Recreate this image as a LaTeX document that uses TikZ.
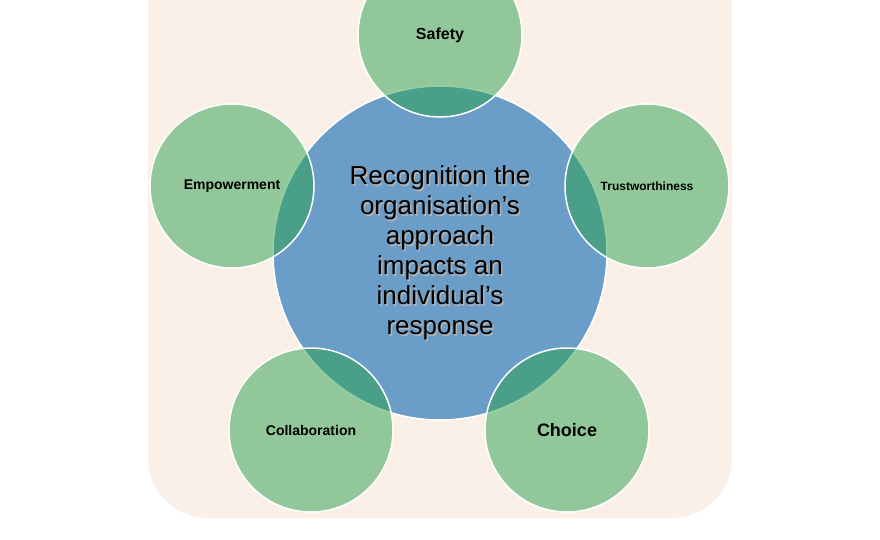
\documentclass[tikz,border=0pt]{standalone}
\usepackage{fontspec}
\setmainfont{Liberation Sans}
\begin{document}
\begin{tikzpicture}[x=1pt,y=-1pt,
  sat/.style={circle,minimum size=164pt,inner sep=0pt,draw=white,line width=1.5pt,fill=none},
  lbl/.style={font=\bfseries\fontsize{16}{18}\selectfont,text=black}]
\useasboundingbox (0,0) rectangle (880,540);
\fill[white] (0,0) rectangle (880,540);
\fill[fill={rgb,255:red,251;green,240;blue,232},rounded corners=60pt] (148,-60) rectangle (732,518);
\node[circle,minimum size=334pt,inner sep=0pt,fill={rgb,255:red,106;green,157;blue,200},draw=white,line width=1.5pt] (c) at (440,253) {};
\definecolor{gr}{RGB}{43,162,76}
\foreach \n/\x/\y in {s/440/35,t/647/186,ch/567/430,co/311/430,e/232/186}{
  \fill[gr,opacity=0.5] (\x,\y) circle (82);
  \node[sat] (\n) at (\x,\y) {};
}
\node[text=gray!60,align=center,font=\fontsize{26}{30}\selectfont] at ([xshift=1.5pt,yshift=-1.5pt]c.center) {Recognition the\\organisation’s\\approach\\impacts an\\individual’s\\response};
\node[align=center,font=\fontsize{26}{30}\selectfont] (ct) at (c.center) {Recognition the\\organisation’s\\approach\\impacts an\\individual’s\\response};
\node[lbl] at (s.center) {Safety};
\node[lbl,font=\bfseries\fontsize{12}{14}\selectfont] at (t.center) {Trustworthiness};
\node[lbl,font=\bfseries\fontsize{18}{20}\selectfont] at (ch.center) {Choice};
\node[lbl,font=\bfseries\fontsize{14}{16}\selectfont] at (co.center) {Collaboration};
\node[lbl,font=\bfseries\fontsize{14}{16}\selectfont] at (e.center) {Empowerment};
\end{tikzpicture}
\end{document}
